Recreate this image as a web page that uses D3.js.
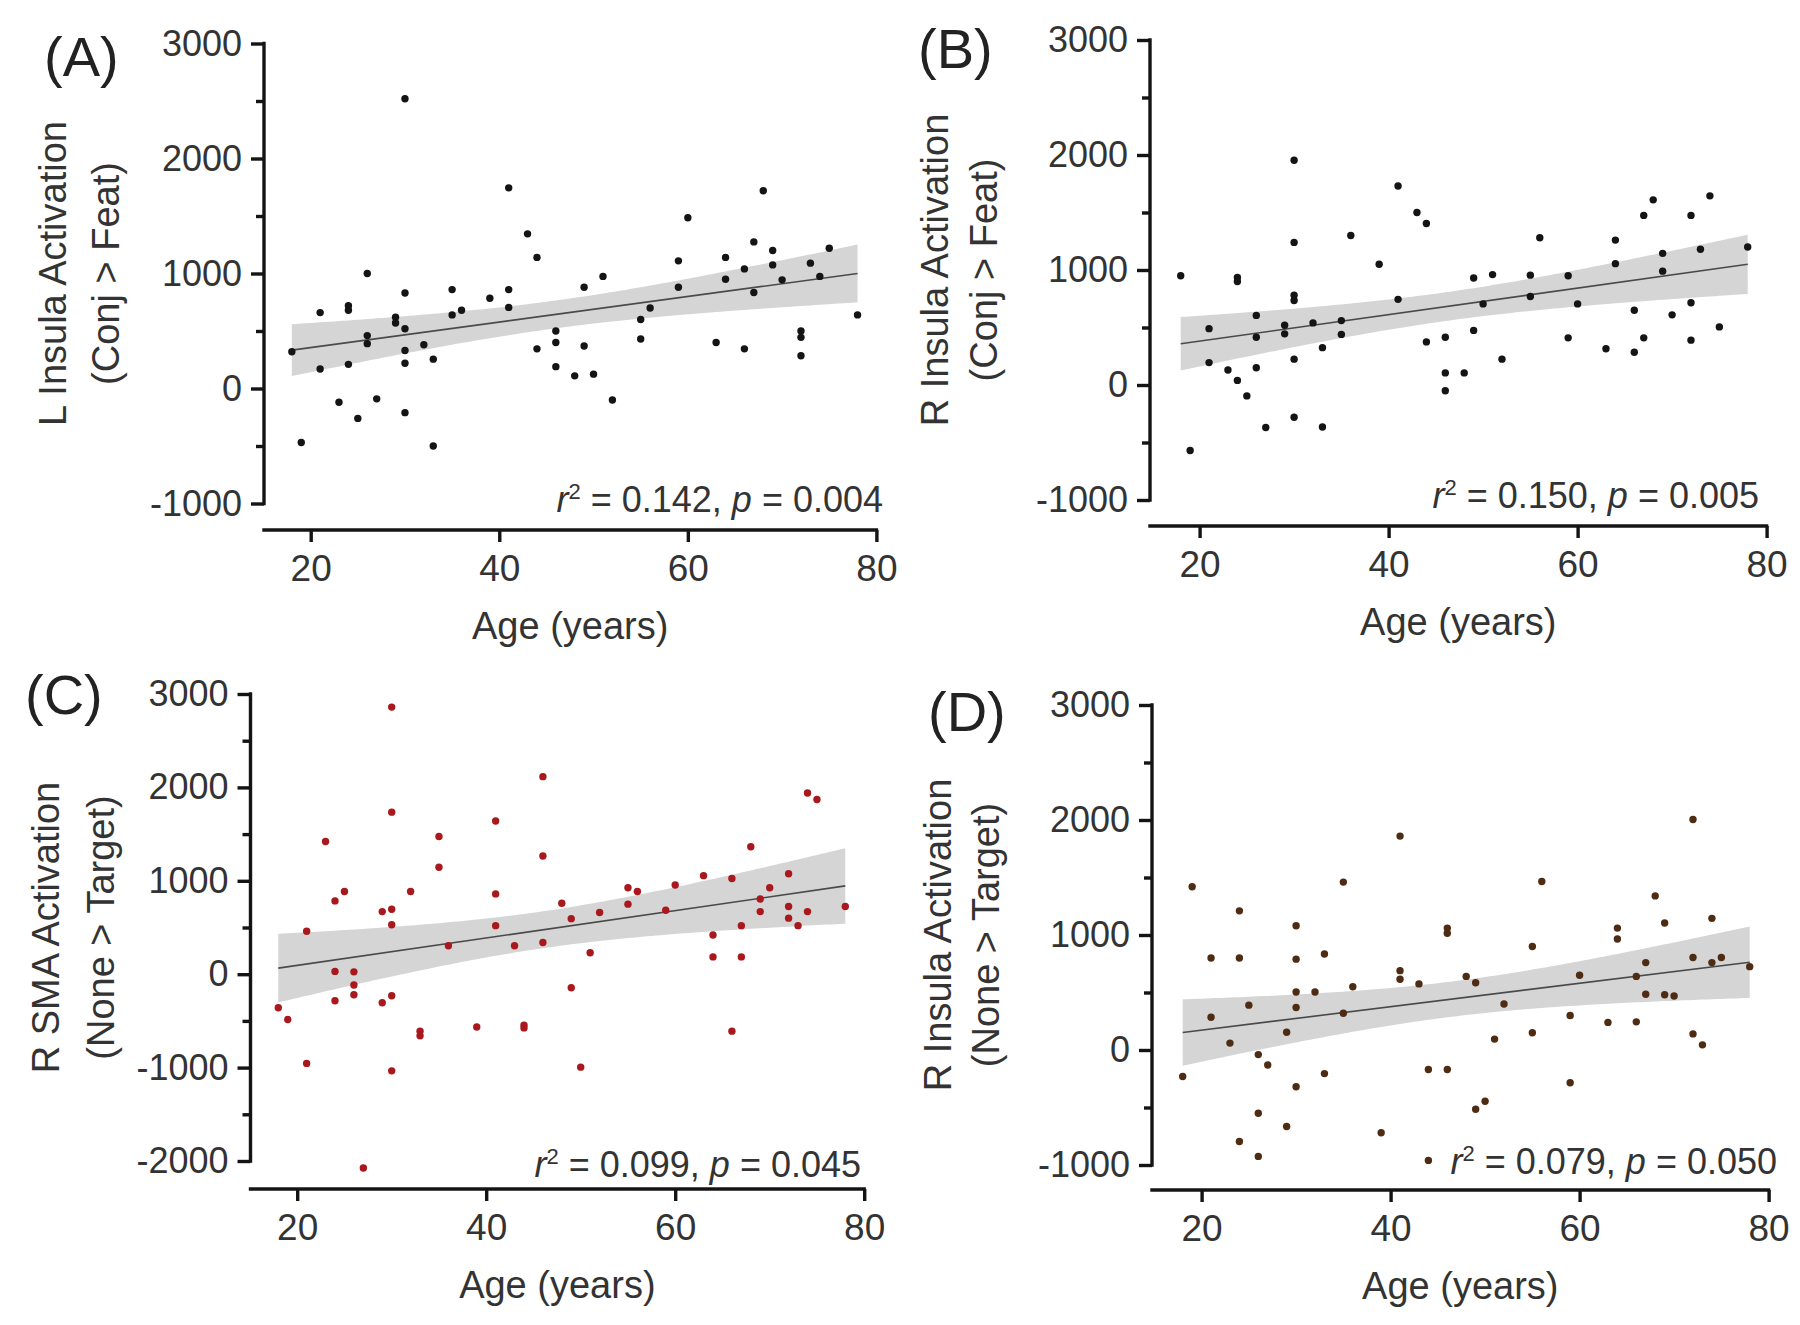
<!DOCTYPE html>
<html><head><meta charset="utf-8">
<script src="https://cdn.jsdelivr.net/npm/d3@7"></script>
<style>
body{margin:0;background:#fff}
svg{display:block}
text{font-family:"Liberation Sans",Arial,Helvetica,sans-serif}
</style>
</head><body>
<svg id="chart" width="1800" height="1325"></svg>
<script>
// ---------------- DATA ----------------
const agesA   = [18,19,21,21,23,24,24,24,25,26,26,26,27,29,29,30,30,30,30,30,30,32,33,33,35,35,36,39,41,41,41,43,44,44,46,46,46,48,49,49,50,51,52,55,55,56,59,59,60,63,64,64,66,66,67,67,68,69,69,70,72,72,72,73,74,75,78];
const valuesA = [320,-470,660,170,-120,720,680,210,-260,1000,460,390,-90,620,570,2520,830,520,330,220,-210,380,255,-500,860,640,680,785,1745,860,705,1345,1140,345,500,400,190,110,880,370,125,975,-100,600,430,700,1110,880,1485,400,1140,950,1040,345,1275,835,1720,1200,1075,945,500,445,285,1090,975,1220,640];

const agesB   = [18,19,21,21,23,24,24,24,25,26,26,26,27,29,29,30,30,30,30,30,30,32,33,33,35,35,36,39,41,41,43,44,44,46,46,46,48,49,49,50,51,52,55,55,56,59,59,60,63,64,64,66,66,67,67,68,69,69,70,72,72,72,73,74,75,78];
const valuesB = [950,-570,490,195,130,935,900,40,-95,605,415,150,-370,520,445,1955,1240,780,735,225,-280,540,325,-365,560,440,1300,1050,1730,745,1500,1405,375,415,105,-50,105,930,475,705,960,225,955,770,1280,950,410,705,315,1260,1055,650,285,1475,410,1610,1145,990,610,1475,715,390,1180,1645,505,1200];

const agesC   = [18,19,21,21,23,24,24,24,25,26,26,26,27,29,29,30,30,30,30,30,30,32,33,33,35,35,36,39,41,41,41,43,44,44,46,46,46,48,49,49,50,51,52,55,55,56,59,60,63,64,64,66,66,67,67,68,69,69,70,72,72,72,73,74,74,75,78];
const valuesC = [-360,-485,460,-955,1420,785,30,-285,885,25,-115,-220,-2075,670,-305,2860,1735,695,530,-230,-1035,885,-610,-660,1475,1145,305,-565,1640,860,520,305,-545,-575,2115,1265,340,760,595,-145,-995,230,660,925,750,885,685,955,1055,420,185,1025,-610,520,185,1365,805,670,925,1075,725,600,520,1940,670,1870,725];

const agesD   = [18,19,21,21,23,24,24,24,25,26,26,26,27,29,29,30,30,30,30,30,32,33,33,35,35,36,39,41,41,41,43,44,44,46,46,46,48,49,49,50,51,52,55,55,56,59,59,60,63,64,64,66,66,67,67,68,69,69,70,72,72,72,73,74,74,75,78];
const valuesD = [-230,1420,800,285,60,1210,800,-795,390,-40,-550,-925,-130,155,-665,1080,790,505,370,-320,505,835,-205,1460,320,550,-720,1860,690,615,575,-170,-960,1060,1015,-170,640,585,-515,-445,95,400,900,150,1465,300,-285,650,240,1060,965,640,245,760,485,1340,1105,480,470,2005,805,140,45,1145,760,805,725];

const panelLabels = ["(A)","(B)","(C)","(D)"];
const yTitles = [
  ["L Insula Activation","(Conj > Feat)"],
  ["R Insula Activation","(Conj > Feat)"],
  ["R SMA Activation","(None > Target)"],
  ["R Insula Activation","(None > Target)"]
];
const yDomains = [[-1000,3000],[-1000,3000],[-2000,3000],[-1000,3000]];
const xTicks = [20,40,60,80];
const r2Values = ["0.142","0.150","0.099","0.079"];
const pValues  = ["0.004","0.005","0.045","0.050"];
const xTitle = "Age (years)";

// ---------------- LAYOUT / STYLE ----------------
const layouts = [
  {yAxisX:264,  yTop:43.5, yBot:503.5, xAxisY:530,  x20:310.7,  x80:876.4,  t1:53,  t2:106, lab:[44,76],   stat:[883,512]},
  {yAxisX:1150, yTop:40,   yBot:500,   xAxisY:526,  x20:1199.6, x80:1766.6, t1:935, t2:984, lab:[918,68],  stat:[1759,508]},
  {yAxisX:250.5,yTop:694,  yBot:1161,  xAxisY:1189, x20:297.2,  x80:864.2,  t1:46,  t2:101, lab:[25,714],  stat:[861,1177]},
  {yAxisX:1152, yTop:705,  yBot:1165,  xAxisY:1190, x20:1201.6, x80:1768.6, t1:938, t2:986, lab:[928,731], stat:[1777,1174]}
];
const dotColors = ["#141414","#141414","#a8181c","#4e2c14"];
const ageData = [agesA, agesB, agesC, agesD];
const valData = [valuesA, valuesB, valuesC, valuesD];

const svg = d3.select("#chart");
const TXT = "#333";
const AX = "#141414";
const AXW = 3.4;
const T95 = 1.997;

function regression(xs, ys) {
  const n = xs.length;
  const mx = d3.mean(xs), my = d3.mean(ys);
  let sxx = 0, sxy = 0;
  for (let i = 0; i < n; i++) { sxx += (xs[i]-mx)**2; sxy += (xs[i]-mx)*(ys[i]-my); }
  const b = sxy / sxx, a = my - b*mx;
  let sse = 0;
  for (let i = 0; i < n; i++) sse += (ys[i] - (a + b*xs[i]))**2;
  const s = Math.sqrt(sse/(n-2));
  return {a, b, s, n, mx, sxx};
}

for (let k = 0; k < 4; k++) {
  const L = layouts[k];
  const ages = ageData[k], vals = valData[k];
  const g = svg.append("g");
  const x = d3.scaleLinear().domain([20,80]).range([L.x20, L.x80]);
  const y = d3.scaleLinear().domain(yDomains[k]).range([L.yBot, L.yTop]);

  // regression + 95% CI band
  const R = regression(ages, vals);
  const xmin = d3.min(ages), xmax = d3.max(ages);
  const grid = d3.range(xmin, xmax + 0.001, 0.5);
  const half = a => T95 * R.s * Math.sqrt(1/R.n + (a-R.mx)**2/R.sxx);
  const fit = a => R.a + R.b*a;
  g.append("path")
    .datum(grid)
    .attr("d", d3.area().x(a => x(a)).y0(a => y(fit(a)-half(a))).y1(a => y(fit(a)+half(a))))
    .attr("fill", "#d5d5d5");
  g.append("path")
    .datum([xmin, xmax])
    .attr("d", d3.line().x(a => x(a)).y(a => y(fit(a))))
    .attr("stroke", "#4a4a4a").attr("stroke-width", 1.6).attr("fill", "none");

  // points
  g.append("g").selectAll("circle").data(ages.map((a,i)=>[a, vals[i]])).join("circle")
    .attr("cx", d => x(d[0])).attr("cy", d => y(d[1])).attr("r", 3.7)
    .attr("fill", dotColors[k]);

  // y axis
  const [y0, y1] = yDomains[k];
  const major = d3.range(y0, y1 + 1, 1000);
  const minor = d3.range(y0, y1 + 1, 500).filter(v => v % 1000 !== 0);
  const ga1 = g.append("g").attr("transform", `translate(${L.yAxisX},0)`)
    .call(d3.axisLeft(y).tickValues(minor).tickSize(8).tickFormat(""));
  const ga2 = g.append("g").attr("transform", `translate(${L.yAxisX},0)`)
    .call(d3.axisLeft(y).tickValues(major).tickSize(13).tickPadding(9).tickFormat(d => String(d)));
  [ga1, ga2].forEach(ga => {
    ga.select(".domain").remove();
    ga.selectAll(".tick line").attr("stroke", AX).attr("stroke-width", AXW);
    ga.selectAll(".tick text").attr("fill", TXT).style("font-size", "36px");
  });
  g.append("line").attr("x1", L.yAxisX).attr("x2", L.yAxisX)
    .attr("y1", y(y1) - AXW/2).attr("y2", y(y0) + AXW/2)
    .attr("stroke", AX).attr("stroke-width", AXW);

  // x axis
  const gx = g.append("g").attr("transform", `translate(0,${L.xAxisY})`)
    .call(d3.axisBottom(x).tickValues(xTicks).tickSize(12).tickPadding(13).tickSizeOuter(0));
  gx.select(".domain").remove();
  gx.selectAll(".tick line").attr("stroke", AX).attr("stroke-width", AXW);
  gx.selectAll(".tick text").attr("fill", TXT).style("font-size", "37px");
  g.append("line").attr("x1", L.yAxisX - AXW/2).attr("x2", x(80) + AXW/2)
    .attr("y1", L.xAxisY).attr("y2", L.xAxisY)
    .attr("stroke", AX).attr("stroke-width", AXW);

  // axis titles
  g.append("text").attr("x", (L.yAxisX + x(80))/2).attr("y", L.xAxisY + 109)
    .attr("text-anchor", "middle").attr("fill", TXT).style("font-size", "38px").text(xTitle);
  const yc = (L.yTop + L.yBot)/2;
  [L.t1, L.t2].forEach((tx, j) => {
    g.append("text").attr("transform", `translate(${tx},${yc}) rotate(-90)`)
      .attr("text-anchor", "middle").attr("dy", "0.35em")
      .attr("fill", TXT).style("font-size", "38px").text(yTitles[k][j]);
  });

  // panel label
  g.append("text").attr("x", L.lab[0]).attr("y", L.lab[1])
    .attr("fill", "#222").style("font-size", "56px").text(panelLabels[k]);

  // statistics
  const st = g.append("text").attr("x", L.stat[0]).attr("y", L.stat[1])
    .attr("text-anchor", "end").attr("fill", TXT).style("font-size", "36px");
  st.append("tspan").style("font-style", "italic").text("r");
  st.append("tspan").attr("dy", -13).style("font-size", "22px").text("2");
  st.append("tspan").attr("dy", 13).text(" = " + r2Values[k] + ", ");
  st.append("tspan").style("font-style", "italic").text("p");
  st.append("tspan").text(" = " + pValues[k]);
}
</script>
</body></html>
